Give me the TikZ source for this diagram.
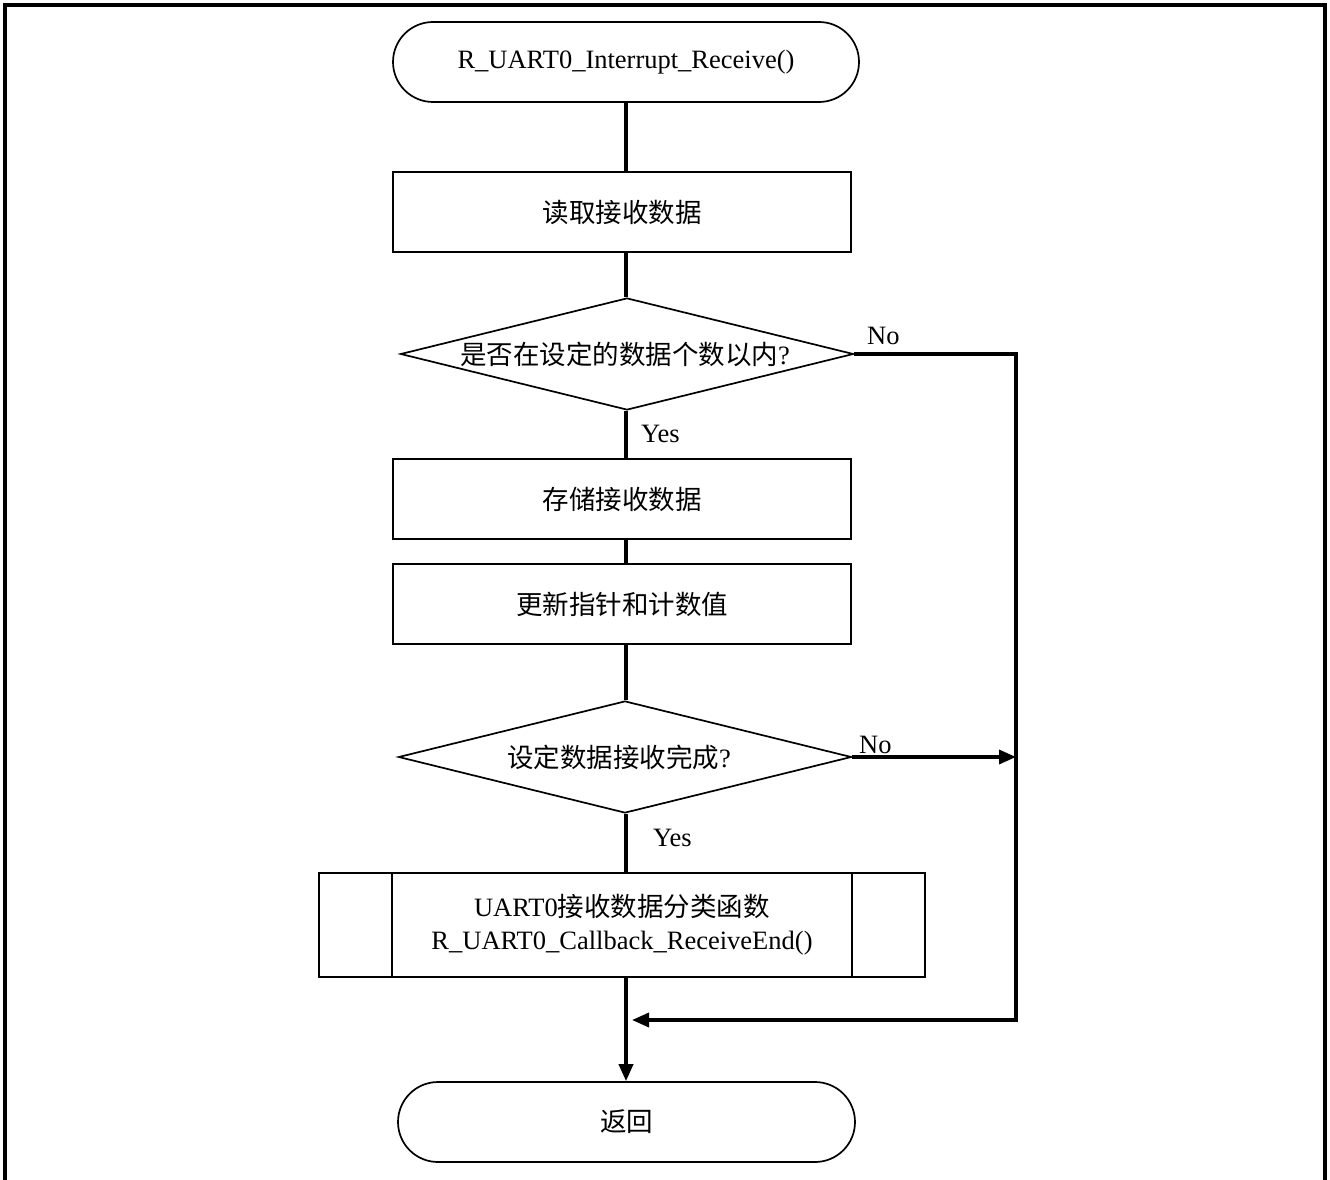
\documentclass[tikz,border=0pt]{standalone}
\usepackage{fontspec}
\setmainfont{Liberation Serif}
\newfontfamily\cjk{Noto Sans CJK SC}
\usetikzlibrary{shapes.geometric,arrows.meta}
\begin{document}
\begin{tikzpicture}[x=1pt,y=-1pt,
  txt/.style={font=\fontsize{26.5}{33}\selectfont, inner sep=0pt, align=center},
  term/.style={txt, draw, line width=1.7pt, rounded corners=40pt, minimum height=80pt},
  box/.style={txt, draw, line width=1.7pt, minimum width=458pt, minimum height=80pt},
  dia/.style={draw, diamond, line width=1.7pt, minimum width=453pt, minimum height=112pt, inner sep=0pt},
  flow/.style={line width=3.5pt},
  arr/.style={flow, -{Triangle[length=17pt,width=14pt]}},
  lab/.style={txt, anchor=west}]
\useasboundingbox (0,0) rectangle (1330,1180);
\draw[line width=3.5pt] (5,1185) -- (5,5) -- (1325,5) -- (1325,1185);

\node[term, minimum width=466pt] (start) at (626,62) {R\_UART0\_Interrupt\_Receive()};
\node[box] (b1) at (622,212) {\cjk 读取接收数据};
\node[dia] (d1) at (627,354) {};
\node[txt] (d1t) at (625,354) {\cjk 是否在设定的数据个数以内\rmfamily ?};
\node[box] (b2) at (622,499) {\cjk 存储接收数据};
\node[box] (b3) at (622,604) {\cjk 更新指针和计数值};
\node[dia] (d2) at (625,757) {};
\node[txt] (d2t) at (619,757) {\cjk 设定数据接收完成\rmfamily ?};
\node[box, minimum width=606pt, minimum height=104pt] (pp) at (622,925)
  {UART0{\cjk 接收数据分类函数}\\R\_UART0\_Callback\_ReceiveEnd()};
\draw[line width=1.7pt] ([xshift=74pt]pp.north west) -- ([xshift=74pt]pp.south west);
\draw[line width=1.7pt] ([xshift=-74pt]pp.north east) -- ([xshift=-74pt]pp.south east);
\node[term, minimum width=457pt] (end) at (626.5,1122) {\cjk 返回};

\node[lab] (yes1) at (641,434) {Yes};
\node[lab] (yes2) at (653,838) {Yes};
\node[lab] (no1) at (867,336) {No};
\node[lab] (no2) at (859,745) {No};

\coordinate (r1) at (1016,354);
\coordinate (r2) at (1016,757);
\coordinate (r3) at (1016,1020);
\coordinate (m3) at (632,1020);

\draw[flow] (start.south) -- (start.south |- b1.north);
\draw[flow] (start.south |- b1.south) -- (start.south |- d1.north);
\draw[flow] (start.south |- d1.south) -- (start.south |- b2.north);
\draw[flow] (start.south |- b2.south) -- (start.south |- b3.north);
\draw[flow] (start.south |- b3.south) -- (start.south |- d2.north);
\draw[flow] (start.south |- d2.south) -- (start.south |- pp.north);
\draw[arr] (start.south |- pp.south) -- (start.south |- end.north);
\draw[arr] (d1.east) -- (r1) -- (r3) -- (m3);
\draw[arr] (d2.east) -- (r2);
\end{tikzpicture}
\end{document}
